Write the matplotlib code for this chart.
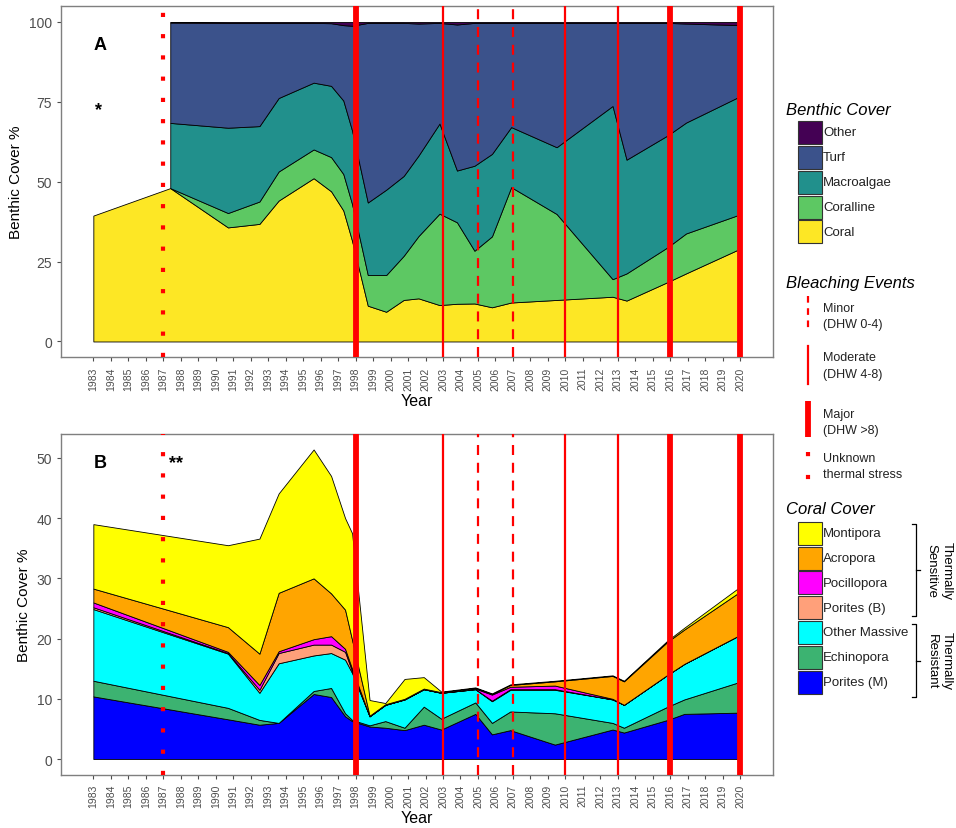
import numpy as np
import matplotlib
matplotlib.use("Agg")
import matplotlib.pyplot as plt
from matplotlib.patches import Rectangle

plt.rcParams['font.family'] = ['Liberation Sans', 'DejaVu Sans']

# ---- panel A: benthic cover (%) ----
years_a = [1983.0, 1987.4, 1990.7, 1992.5, 1993.6, 1995.6, 1996.6, 1997.3, 1997.8,
           1998.7, 1999.75, 2000.75, 2001.6, 2002.8, 2003.8, 2004.8, 2005.8, 2006.9,
           2009.5, 2012.7, 2013.5, 2015.85, 2016.9, 2019.9]
coral_a = [39.4, 48.0, 35.7, 36.8, 44.1, 51.1, 47.0, 41.0, 31.5, 11.2, 9.3, 13.0,
           13.5, 11.4, 11.8, 11.9, 10.7, 12.2, 13.0, 14.0, 12.8, 18.6, 21.3, 28.8]
# no data for these in 1983
coralline_a = [np.nan, 0.0, 4.5, 7.0, 9.1, 9.0, 10.7, 11.4, 11.5, 9.6, 11.5, 13.8,
               19.5, 28.6, 25.5, 16.5, 22.2, 36.1, 26.9, 5.5, 8.5, 10.9, 12.5, 10.8]
macro_a = [np.nan, 20.4, 26.7, 23.6, 23.0, 20.9, 22.3, 23.0, 23.0, 22.7, 26.7, 25.0,
           25.2, 28.2, 16.2, 26.6, 25.8, 18.8, 20.9, 54.2, 35.6, 35.0, 34.7, 36.9]
turf_a = [np.nan, 31.4, 32.8, 32.3, 23.5, 18.7, 19.6, 23.6, 32.8, 56.2, 52.2, 47.9,
          41.3, 31.5, 45.7, 44.7, 41.0, 32.6, 38.9, 26.0, 42.8, 35.2, 31.0, 22.5]
other_a = [np.nan, 0.2, 0.3, 0.3, 0.3, 0.3, 0.4, 1.0, 1.2, 0.3, 0.3, 0.3,
           0.5, 0.3, 0.8, 0.3, 0.3, 0.3, 0.3, 0.3, 0.3, 0.3, 0.5, 1.0]
names_a = ['Coral', 'Coralline', 'Macroalgae', 'Turf', 'Other']
colors_a = ['#FDE725', '#5DC863', '#21908C', '#3B528B', '#440154']

# ---- panel B: coral cover (%) ----
years_b = [1983.0, 1990.7, 1992.5, 1993.6, 1995.6, 1996.6, 1997.4, 1997.8, 1998.8,
           1999.7, 2000.8, 2001.9, 2002.9, 2004.85, 2005.8, 2006.85, 2009.4, 2012.7,
           2013.35, 2015.85, 2016.8, 2019.85]
porites_m = [10.4, 6.6, 5.7, 6.0, 10.8, 10.3, 7.1, 6.3, 5.4, 5.2, 4.8, 5.7, 4.9, 7.5,
             4.1, 4.8, 2.4, 4.9, 4.4, 6.5, 7.5, 7.7]
echinopora = [2.6, 1.9, 0.8, 0.0, 0.5, 1.5, 0.5, 0.2, 0.2, 1.1, 0.4, 3.0, 1.8, 1.9,
              1.9, 3.1, 5.2, 1.1, 0.8, 2.2, 2.4, 5.0]
other_massive = [11.9, 9.0, 4.5, 9.9, 5.9, 5.8, 8.9, 7.8, 1.5, 2.7, 4.7, 2.9, 4.3, 2.2,
                 3.6, 3.6, 3.9, 3.9, 3.8, 5.3, 5.9, 7.7]
porites_b = [0.3, 0.1, 0.5, 1.7, 1.8, 1.4, 1.3, 0.3, 0.0, 0.0, 0.0, 0.0, 0.0, 0.0,
             0.1, 0.1, 0.1, 0.0, 0.0, 0.0, 0.0, 0.0]
pocillopora = [0.8, 0.2, 0.8, 0.3, 0.9, 1.4, 0.5, 0.4, 0.0, 0.0, 0.0, 0.0, 0.0, 0.1,
               1.0, 0.4, 0.6, 0.1, 0.0, 0.0, 0.0, 0.0]
acropora = [2.3, 4.1, 5.2, 9.7, 10.1, 7.1, 6.5, 4.8, 0.1, 0.1, 0.1, 0.1, 0.1, 0.1,
            0.1, 0.3, 0.7, 3.8, 3.9, 5.5, 5.7, 7.1]
montipora = [10.7, 13.6, 19.1, 16.5, 21.4, 19.5, 15.2, 17.7, 2.6, 0.2, 3.3, 1.9, 0.1,
             0.1, 0.1, 0.1, 0.1, 0.1, 0.1, 0.2, 0.3, 0.8]
names_b = ['Porites (M)', 'Echinopora', 'Other Massive', 'Porites (B)',
           'Pocillopora', 'Acropora', 'Montipora']
colors_b = ['#0000FF', '#3CB371', '#00FFFF', '#FFA07A', '#FF00FF', '#FFA500', '#FFFF00']

# ---- bleaching events ----
minor_years = [2005, 2007]
moderate_years = [2003, 2010, 2013]
major_years = [1998, 2016, 2020]
unknown_years = [1987]

tick_years = list(range(1983, 2021))
grey = '#4D4D4D'
frame = '#7F7F7F'


def draw_events(ax):
    for y in minor_years:
        ax.axvline(y, color='red', lw=1.6, ls=(0, (4.5, 3.5)), zorder=5)
    for y in moderate_years:
        ax.axvline(y, color='red', lw=1.6, zorder=5)
    for y in major_years:
        ax.axvline(y, color='red', lw=4.2, zorder=5)
    for y in unknown_years:
        ax.axvline(y, color='red', lw=3.0, ls=(0, (1, 4.1)), zorder=5)


def style_axes(ax):
    ax.set_xlim(1981.15, 2021.85)
    ax.set_xticks(tick_years)
    ax.set_xticklabels([str(y) for y in tick_years], rotation=90, fontsize=7.5, color=grey)
    ax.tick_params(axis='y', labelsize=10, colors=grey, length=3, width=0.8)
    ax.tick_params(axis='x', length=3, width=0.8, colors=grey)
    for s in ax.spines.values():
        s.set_color(frame)
        s.set_linewidth(1.0)
    ax.set_xlabel('Year', fontsize=11.5, labelpad=2)
    ax.set_ylabel('Benthic Cover %', fontsize=11, labelpad=4)


fig = plt.figure(figsize=(9.56, 8.29), dpi=100)

# panel A
ax1 = fig.add_axes([0.0638, 0.5676, 0.7443, 0.4240])
xa = np.array(years_a)
layers_a = np.array([coral_a, coralline_a, macro_a, turf_a, other_a])
tops_a = np.cumsum(layers_a, axis=0)
ax1.fill_between(xa, 0, tops_a[0], facecolor=colors_a[0], edgecolor='black', lw=0.6)
for i in range(1, len(names_a)):
    ax1.fill_between(xa[1:], tops_a[i - 1][1:], tops_a[i][1:], facecolor=colors_a[i],
                     edgecolor='black', lw=0.6)
draw_events(ax1)
ax1.set_ylim(-5, 105)
ax1.set_yticks([0, 25, 50, 75, 100])
style_axes(ax1)
ax1.text(1983.0, 93, 'A', fontsize=13, fontweight='bold', ha='left', va='center')
ax1.text(1983.1, 72.5, '*', fontsize=13, fontweight='bold', ha='left', va='center')

# panel B
ax2 = fig.add_axes([0.0638, 0.0645, 0.7443, 0.4108])
xb = np.array(years_b)
layers_b = np.array([porites_m, echinopora, other_massive, porites_b, pocillopora,
                     acropora, montipora])
tops_b = np.cumsum(layers_b, axis=0)
lower = np.zeros(len(xb))
for i in range(len(names_b)):
    ax2.fill_between(xb, lower, tops_b[i], facecolor=colors_b[i], edgecolor='black', lw=0.6)
    lower = tops_b[i]
draw_events(ax2)
ax2.set_ylim(-2.57, 53.97)
ax2.set_yticks([0, 10, 20, 30, 40, 50])
style_axes(ax2)
ax2.text(1983.0, 49.3, 'B', fontsize=13, fontweight='bold', ha='left', va='center')
ax2.text(1987.3, 49.2, '**', fontsize=13, fontweight='bold', ha='left', va='center')

# legends, drawn in pixel coordinates
lg = fig.add_axes([0, 0, 1, 1])
lg.set_xlim(0, 956)
lg.set_ylim(829, 0)
lg.axis('off')
lg.patch.set_visible(False)

lg.text(786, 110, 'Benthic Cover', fontsize=12, style='italic', va='center', ha='left')
for j, (name, col) in enumerate(zip(names_a[::-1], colors_a[::-1])):
    yc = 133.3 + j * 24.9
    lg.add_patch(Rectangle((798, yc - 11.5), 24, 23, facecolor=col, edgecolor='#333333', lw=0.8))
    lg.text(823, yc, name, fontsize=9.5, va='center', ha='left', color='#222222')

lg.text(786, 283, 'Bleaching Events', fontsize=12, style='italic', va='center', ha='left')
lg.plot([808, 808], [297, 333], color='red', lw=1.6, ls=(0, (3, 2.5)))
lg.text(823, 309, 'Minor', fontsize=9, va='center', ha='left', color='#222222')
lg.text(823, 325, '(DHW 0-4)', fontsize=9, va='center', ha='left', color='#222222')
lg.plot([808, 808], [347, 385], color='red', lw=1.6)
lg.text(823, 358, 'Moderate', fontsize=9, va='center', ha='left', color='#222222')
lg.text(823, 375, '(DHW 4-8)', fontsize=9, va='center', ha='left', color='#222222')
lg.plot([808, 808], [402, 438], color='red', lw=4.2, solid_capstyle='butt')
lg.text(823, 415, 'Major', fontsize=9, va='center', ha='left', color='#222222')
lg.text(823, 431, '(DHW >8)', fontsize=9, va='center', ha='left', color='#222222')
lg.plot([808, 808], [453, 481], color='red', lw=3.0, ls=(0, (1, 4.5)),
        dash_capstyle='butt')
lg.text(823, 459, 'Unknown', fontsize=9, va='center', ha='left', color='#222222')
lg.text(823, 475, 'thermal stress', fontsize=9, va='center', ha='left', color='#222222')

lg.text(786, 510, 'Coral Cover', fontsize=12, style='italic', va='center', ha='left')
for j, (name, col) in enumerate(zip(names_b[::-1], colors_b[::-1])):
    yc = 534.3 + j * 24.8
    lg.add_patch(Rectangle((798, yc - 11.5), 24, 23, facecolor=col, edgecolor='#333333', lw=0.8))
    lg.text(823, yc, name, fontsize=9.5, va='center', ha='left', color='#222222')

# brackets for thermal groups
for y0, y1, label in [(525, 617, 'Thermally\nSensitive'), (625, 698, 'Thermally\nResistant')]:
    lg.plot([912, 916, 916, 912], [y0, y0, y1, y1], color='black', lw=0.9)
    ym = (y0 + y1) / 2
    lg.plot([916, 920], [ym, ym], color='black', lw=0.9)
    lg.text(939, ym, label, fontsize=9.5, rotation=270, va='center', ha='center',
            multialignment='center', linespacing=1.35)

fig.savefig('out.png', dpi=100)
